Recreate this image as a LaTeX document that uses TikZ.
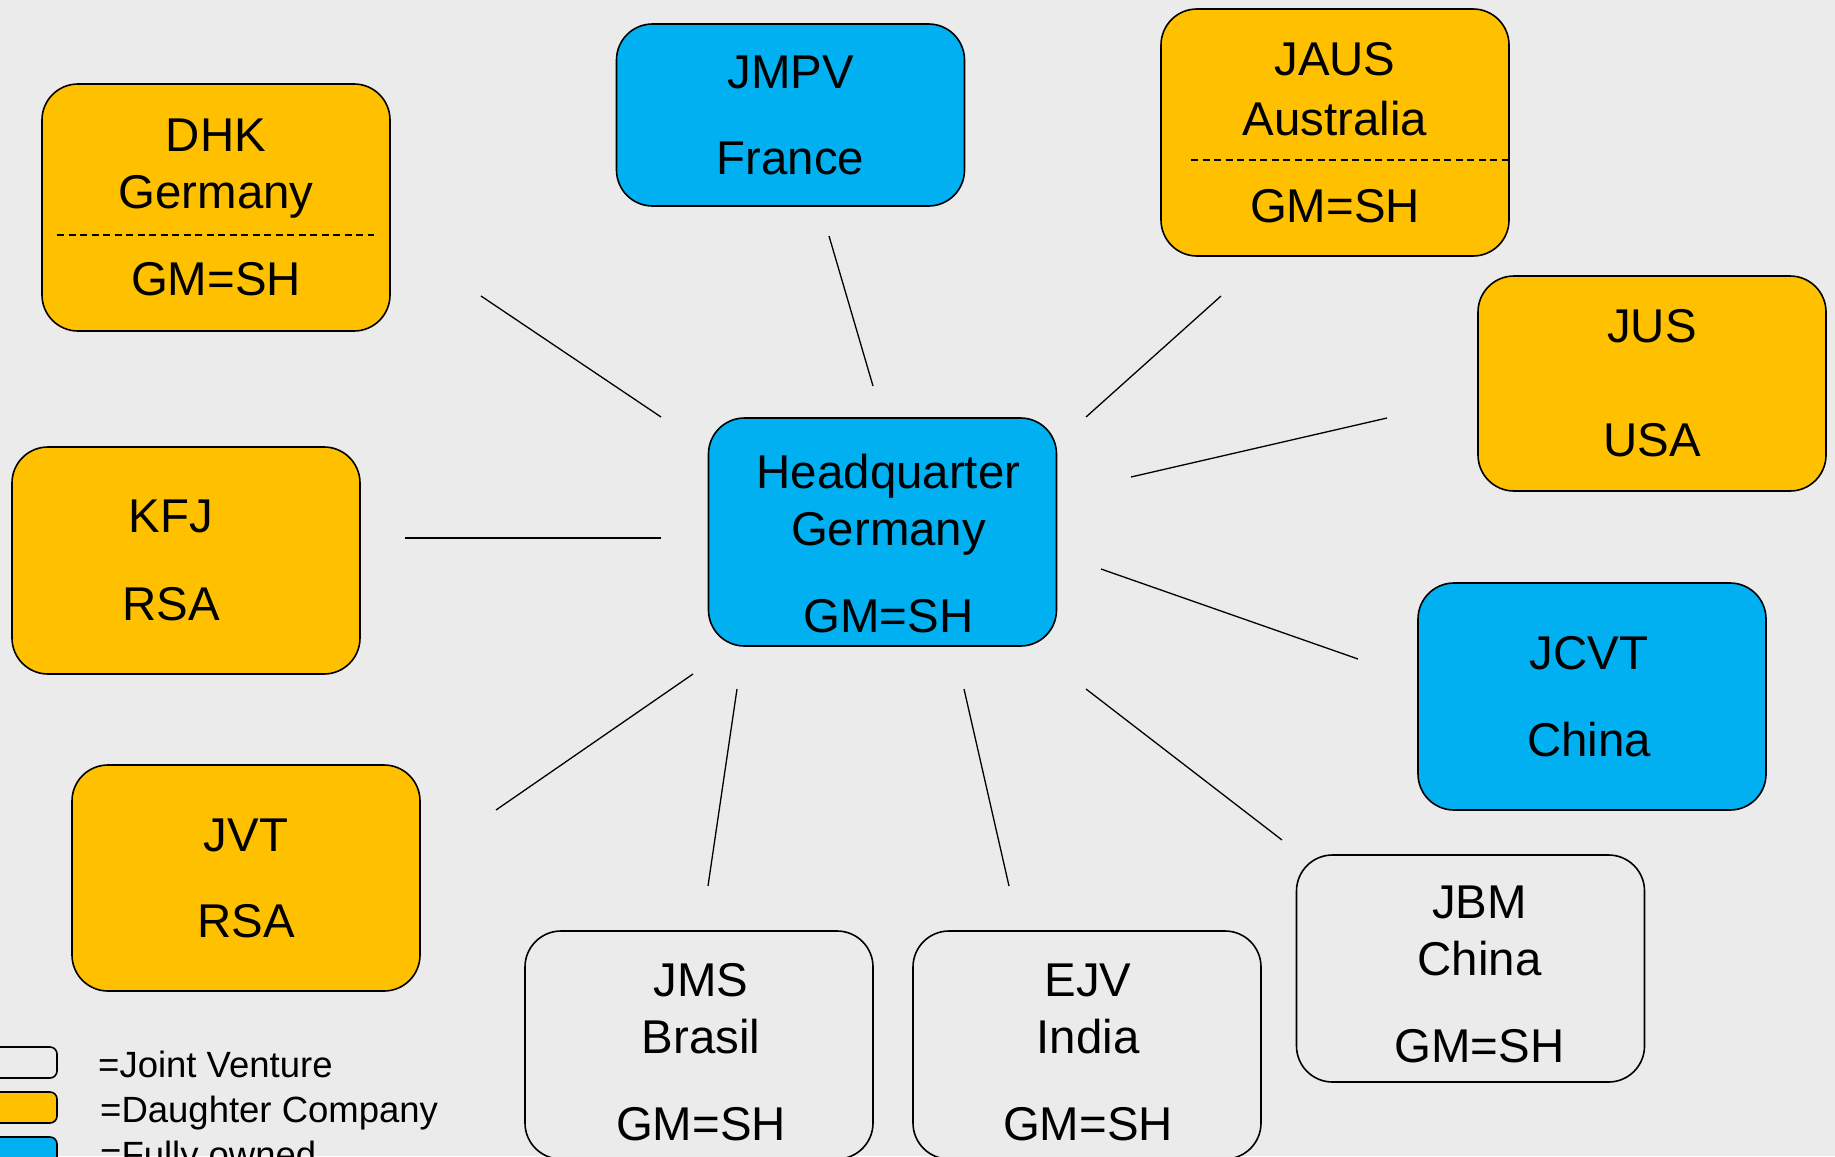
\documentclass[tikz,border=0pt]{standalone}
\usepackage{fontspec}
\setmainfont{Liberation Sans}
\definecolor{bgray}{HTML}{EBEBEB}
\definecolor{daughter}{HTML}{FFC000}
\definecolor{owned}{HTML}{00B0F0}
\tikzset{
  unit/.style={draw=black, line width=1.6pt, rounded corners=36pt, minimum width=348pt,
    align=center, inner sep=0pt, font=\fontsize{47.4}{57}\selectfont},
  unittext/.style={align=center, inner sep=0pt, font=\fontsize{47.4}{57}\selectfont},
  jv/.style={unit, fill=bgray},
  dc/.style={unit, fill=daughter},
  fo/.style={unit, fill=owned},
  link/.style={line width=1.3pt},
  divider/.style={line width=1.6pt, dash pattern=on 7pt off 4.5pt},
  legendbox/.style={draw=black, line width=1.6pt, rounded corners=7pt},
  legendtext/.style={anchor=base west, inner sep=0pt, font=\fontsize{36.5}{45}\selectfont}
}
\begin{document}
\begin{tikzpicture}[x=1pt,y=-1pt]
\fill[bgray] (0,0) rectangle (1835,1156);
\useasboundingbox (0,0) rectangle (1835,1156);

% headquarter (its text sits a bit low and right)
\node[fo, minimum height=228pt] (hq) at (882.5,532) {};
\node[unittext] (hq-text) at ([xshift=6pt,yshift=-12pt]hq.center) {Headquarter\\Germany\\[30pt]GM=SH};

% companies around it
\node[dc, minimum height=247pt] (dhk) at (216,207.5) {DHK\\Germany\\[30pt]GM=SH};
\node[fo, minimum height=182pt] (jmpv) at (790.5,115) {JMPV\\[29pt]France};
\node[dc, minimum height=247pt] (jaus) at (1335,132.5) {JAUS\\[3pt]Australia\\[30pt]GM=SH};
\node[dc, minimum height=215pt] (jus) at (1652,383.5) {JUS\\[57pt]USA};
\node[dc, minimum height=227pt] (kfj) at (186,560.5) {};
\node[unittext] (kfj-text) at ([xshift=-15pt]kfj.center) {KFJ\\[31pt]RSA};
\node[fo, minimum height=227pt] (jcvt) at (1592,696.5) {};
\node[unittext] (jcvt-text) at ([xshift=-3pt]jcvt.center) {JCVT\\[30pt]China};
\node[dc, minimum height=226pt] (jvt) at (246,878) {JVT\\[29pt]RSA};
\node[jv, minimum height=228pt] (jms) at (699,1045) {};
\node[unittext] (jms-text) at ([xshift=2pt,yshift=-7pt]jms.center) {JMS\\Brasil\\[30pt]GM=SH};
\node[jv, minimum height=228pt] (ejv) at (1087,1045) {};
\node[unittext] (ejv-text) at ([xshift=1pt,yshift=-7pt]ejv.center) {EJV\\India\\[30pt]GM=SH};
\node[jv, minimum height=227pt] (jbm) at (1470.5,968.5) {};
\node[unittext] (jbm-text) at ([xshift=9pt,yshift=-6pt]jbm.center) {JBM\\China\\[30pt]GM=SH};

% dashed dividers
\draw[divider] (57,235) -- (374,235);
\draw[divider] (1191,160) -- (1509,160);

% connector ends
\coordinate (h-dhk) at (661,417);   \coordinate (e-dhk) at (481,296);
\coordinate (h-jmpv) at (873,386);  \coordinate (e-jmpv) at (829,236);
\coordinate (h-jaus) at (1086,417); \coordinate (e-jaus) at (1221,296);
\coordinate (h-jus) at (1131,477);  \coordinate (e-jus) at (1387,418);
\coordinate (h-kfj) at (661,538);   \coordinate (e-kfj) at (405,538);
\coordinate (h-jcvt) at (1101,569); \coordinate (e-jcvt) at (1358,659);
\coordinate (h-jvt) at (693,674);   \coordinate (e-jvt) at (496,810);
\coordinate (h-jms) at (737,689);   \coordinate (e-jms) at (708,886);
\coordinate (h-ejv) at (964,689);   \coordinate (e-ejv) at (1009,886);
\coordinate (h-jbm) at (1086,689);  \coordinate (e-jbm) at (1282,840);

\foreach \c in {dhk,jmpv,jaus,jus,kfj,jcvt,jvt,jms,ejv,jbm}
  \draw[link] (h-\c) -- (e-\c);

% legend
\draw[legendbox, fill=bgray] (-12,1047) rectangle (57,1078);
\draw[legendbox, fill=daughter] (-12,1092) rectangle (57,1123);
\draw[legendbox, fill=owned] (-12,1137) rectangle (57,1168);
\node[legendtext] (lg-jv) at (98,1077) {=Joint Venture};
\node[legendtext] (lg-dc) at (100,1122) {=Daughter Company};
\node[legendtext] (lg-fo) at (100,1167) {=Fully owned};
\end{tikzpicture}
\end{document}
